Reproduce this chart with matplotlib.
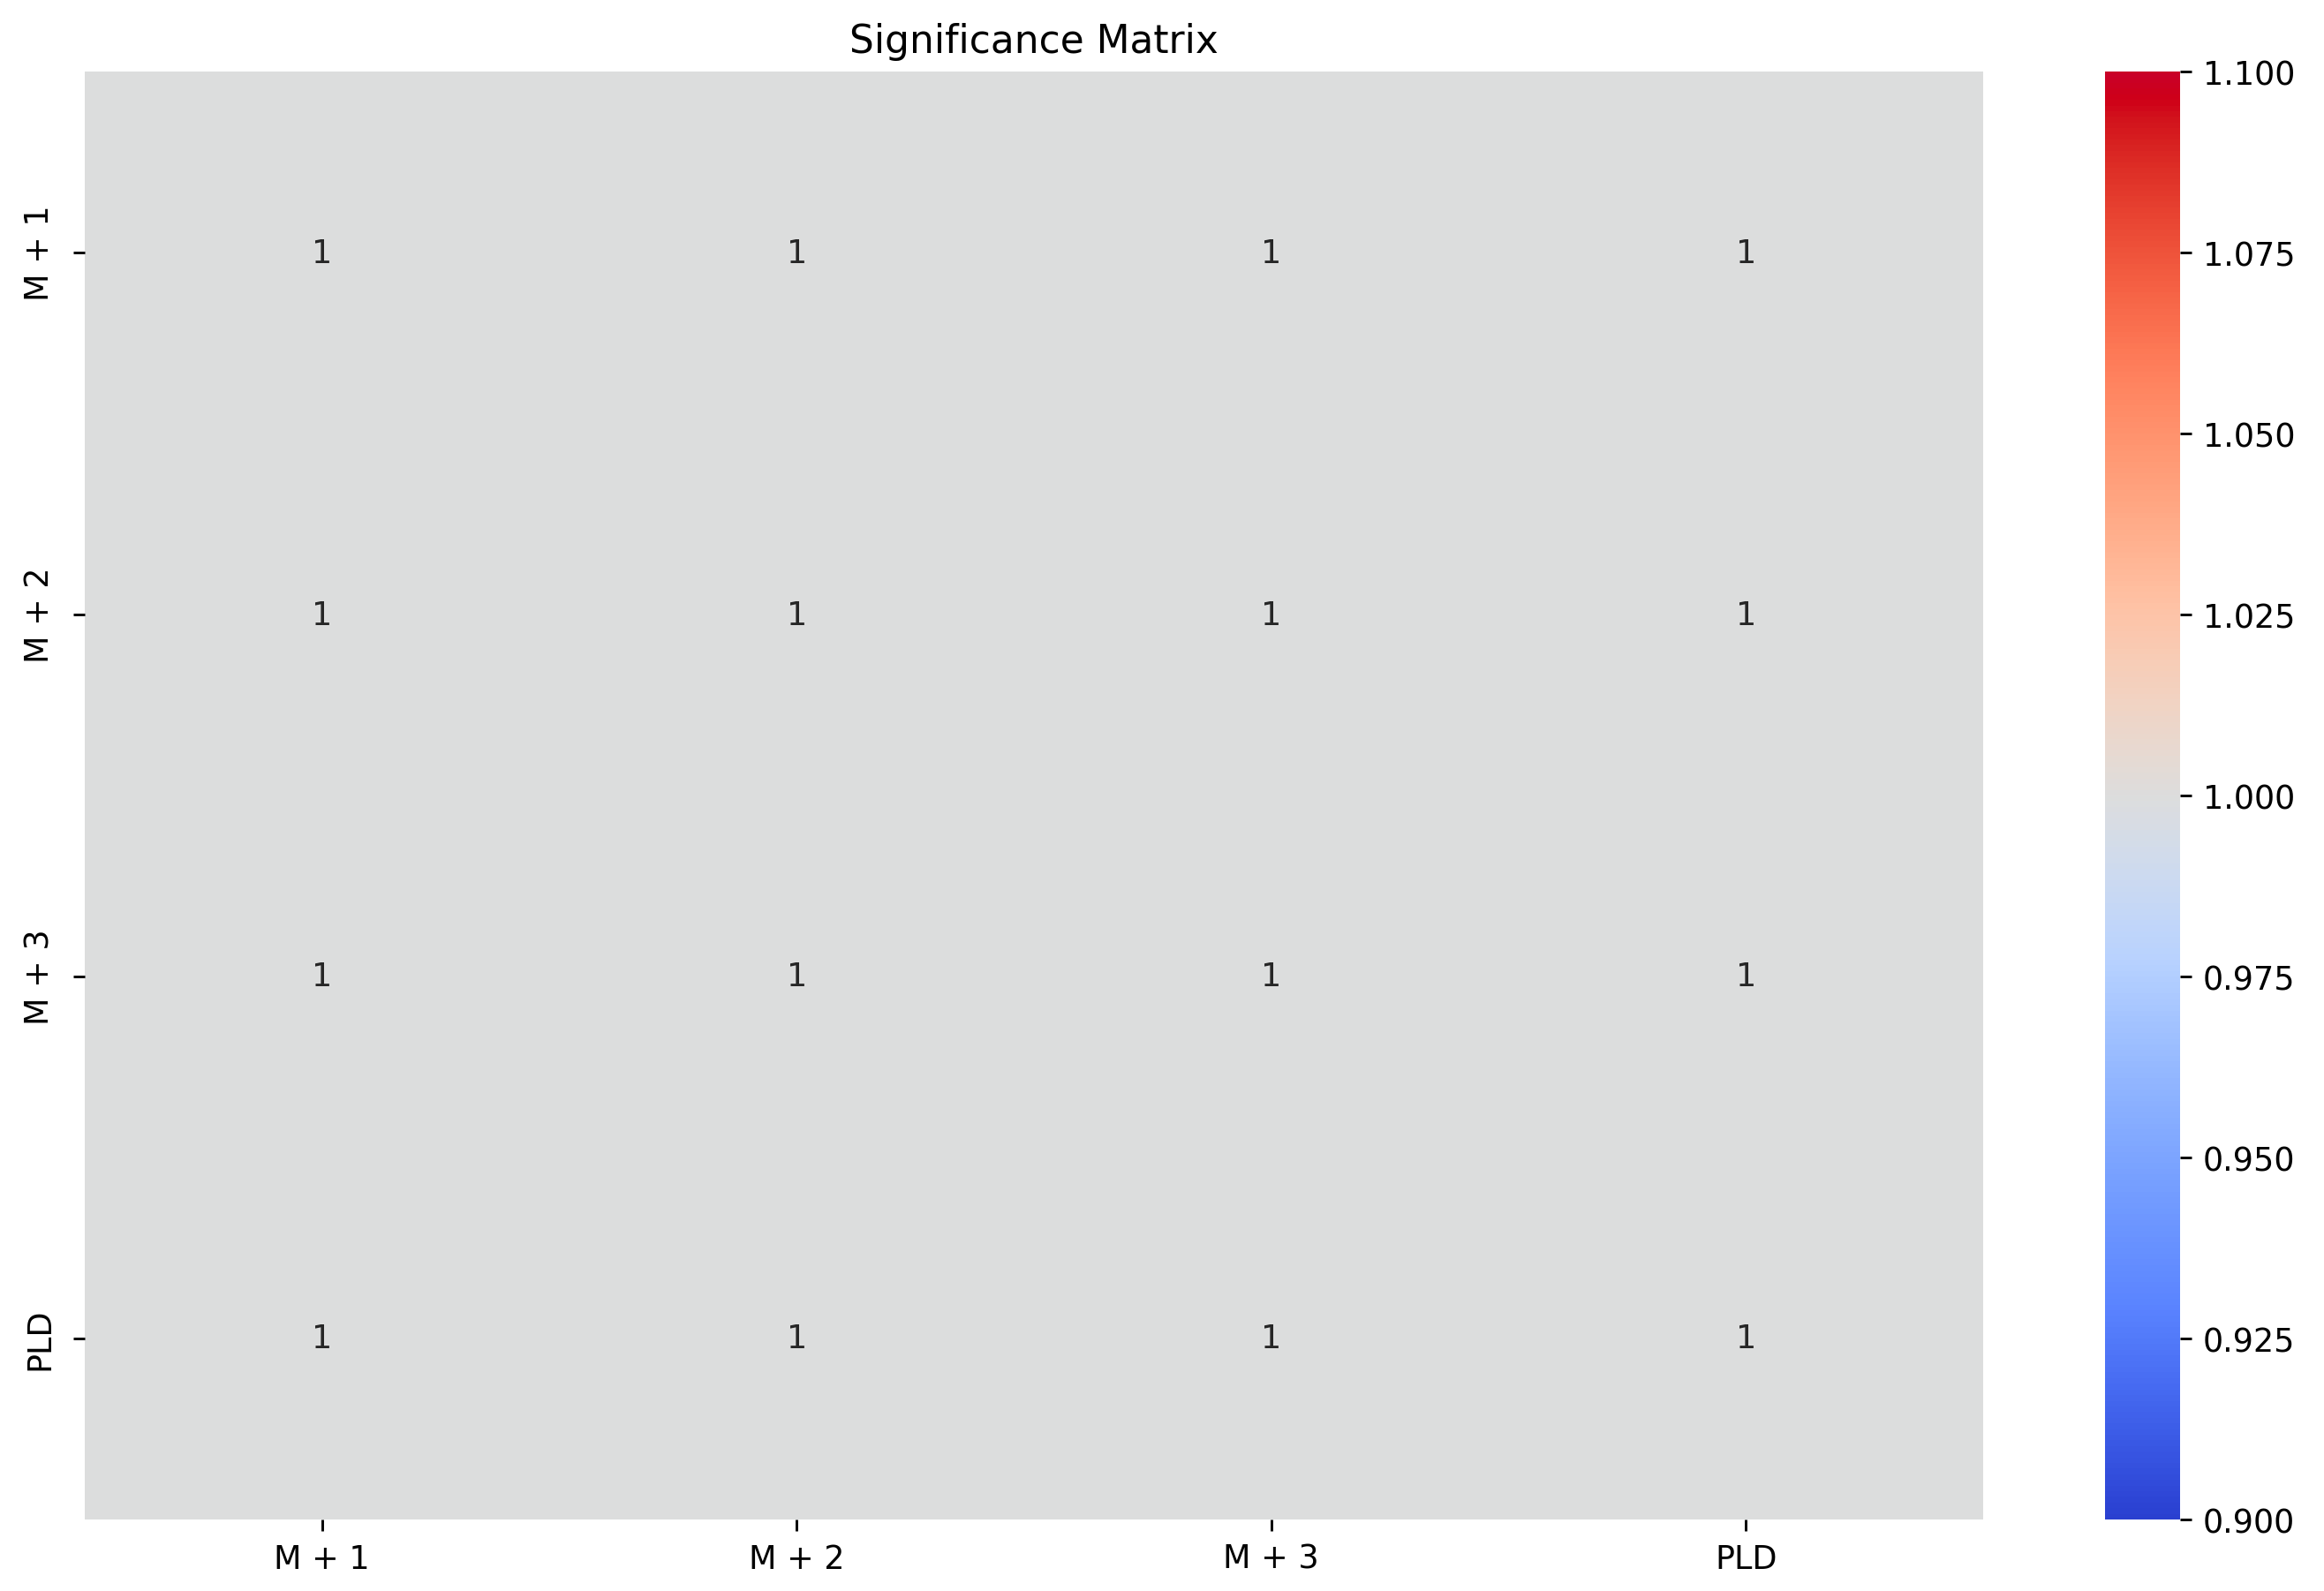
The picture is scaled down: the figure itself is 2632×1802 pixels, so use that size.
import numpy as np
import pandas as pd
import seaborn as sns
import matplotlib
matplotlib.use("Agg")
import matplotlib.pyplot as plt
from matplotlib.colors import ListedColormap, rgb_to_hsv, hsv_to_rgb

# significance values between each pair of models
models = ['M + 1', 'M + 2', 'M + 3', 'PLD']
sig_values = [
    [1, 1, 1, 1],
    [1, 1, 1, 1],
    [1, 1, 1, 1],
    [1, 1, 1, 1],
]

df = pd.DataFrame(sig_values, index=models, columns=models)

# coolwarm, a bit more saturated (as in the reference screenshot)
base = plt.get_cmap('coolwarm')(np.linspace(0, 1, 256))[:, :3]
hsv = rgb_to_hsv(base)
s = hsv[:, 1].copy()
hsv[:, 1] = np.clip(s * 1.15, 0, 1)
hsv[:, 2] = np.clip(hsv[:, 2] * (1 + 0.12 * s), 0, 1)
cmap = ListedColormap(hsv_to_rgb(hsv))

fig = plt.figure(figsize=(10, 6.85), dpi=263.2)
ax = fig.add_axes([0.0365, 0.0449, 0.8168, 0.9096])
cax = fig.add_axes([0.9058, 0.0449, 0.0323, 0.9096])

sns.heatmap(df, annot=True, cmap=cmap, ax=ax, cbar_ax=cax)
ax.set_title('Significance Matrix', fontsize=12)
ax.tick_params(axis='y', pad=5.5)

fig.savefig('out.png', dpi=263.2)
